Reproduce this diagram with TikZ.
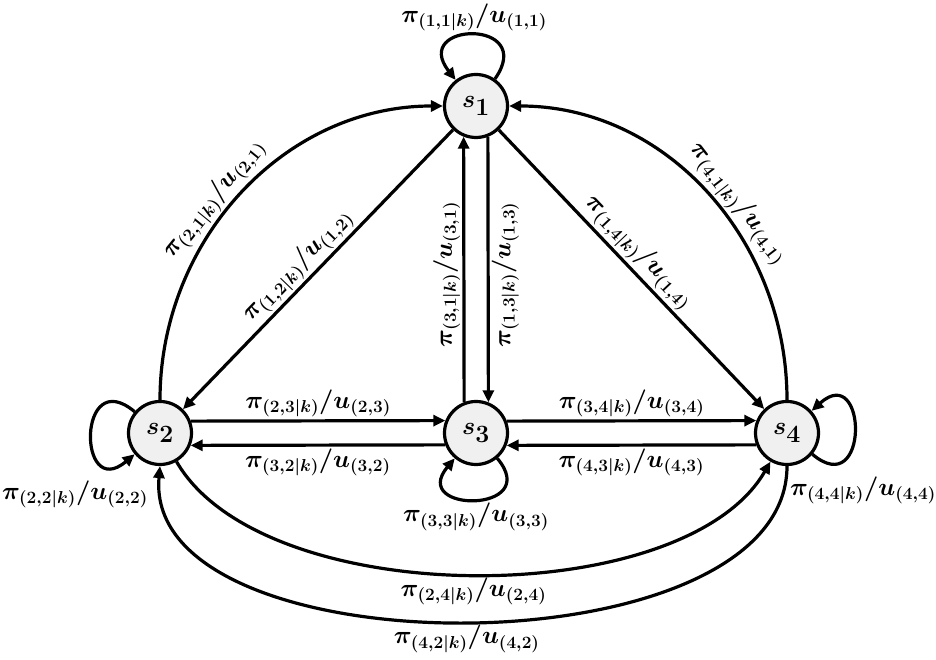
\documentclass[tikz,border=0pt]{standalone}
\usepackage{amsmath}
\usetikzlibrary{arrows.meta,calc}
\DeclareMathSizes{25}{25}{19}{15}
\DeclareMathSizes{34}{34}{25}{19}
\begin{document}
\begin{tikzpicture}[x=1pt,y=1pt,
  state/.style={circle,draw,line width=3.2pt,fill=gray!12,minimum size=63pt,inner sep=0pt,font=\fontsize{34}{38}\selectfont\boldmath},
  conn/.style={line width=3.2pt,-{Triangle[length=12pt,width=11pt]}},
  rconn/.style={line width=3.2pt,{Triangle[length=12pt,width=11pt]}-},
  lbl/.style={font=\fontsize{25}{29}\selectfont\boldmath,inner sep=2pt}]
\useasboundingbox (0,0) rectangle (936,660);

\node[state] (s1) at (476,554) {$s_1$};
\node[state] (s2) at (160,227) {$s_2$};
\node[state] (s3) at (476,227) {$s_3$};
\node[state] (s4) at (787,227) {$s_4$};

% s1 <-> s2
\draw[conn] (s2.north) to[out=90,in=180] node[lbl,above,sloped,pos=0.45] {$\pi_{(2,1|k)}/u_{(2,1)}$} (s1.west);
\draw[rconn] (s2) -- node[lbl,above,sloped,pos=0.47] {$\pi_{(1,2|k)}/u_{(1,2)}$} (s1);

% s1 <-> s4
\draw[rconn] (s1.east) to[out=0,in=90] node[lbl,above,sloped,pos=0.56] {$\pi_{(4,1|k)}/u_{(4,1)}$} (s4.north);
\draw[conn] (s1) -- node[lbl,above,sloped,pos=0.48] {$\pi_{(1,4|k)}/u_{(1,4)}$} (s4);

% s1 <-> s3
\draw[conn] (s3.111.5) -- node[lbl,rotate=90,anchor=south,pos=0.48] {$\pi_{(3,1|k)}/u_{(3,1)}$} (s1.248.5);
\draw[rconn] (s3.68.5) -- node[lbl,rotate=90,anchor=north,pos=0.48] {$\pi_{(1,3|k)}/u_{(1,3)}$} (s1.291.5);

% s2 <-> s3
\draw[conn] (s2.21.5) -- node[lbl,above] {$\pi_{(2,3|k)}/u_{(2,3)}$} (s3.158.5);
\draw[conn] (s3.201.5) -- node[lbl,below] {$\pi_{(3,2|k)}/u_{(3,2)}$} (s2.338.5);

% s3 <-> s4
\draw[conn] (s3.21.5) -- node[lbl,above] {$\pi_{(3,4|k)}/u_{(3,4)}$} (s4.158.5);
\draw[conn] (s4.201.5) -- node[lbl,below] {$\pi_{(4,3|k)}/u_{(4,3)}$} (s3.338.5);

% s2 <-> s4
\draw[conn] (s2.-60) to[out=-60,in=-120,looseness=0.75] node[lbl,below] {$\pi_{(2,4|k)}/u_{(2,4)}$} (s4.240);
\draw[conn] (s4.south) to[out=-90,in=-95,looseness=0.85] node[lbl,below] {$\pi_{(4,2|k)}/u_{(4,2)}$} (s2.south);

% loops
\draw[conn] (s1.55) .. controls +(55:74) and +(128:74) .. node[lbl,above] {$\pi_{(1,1|k)}/u_{(1,1)}$} (s1.128);
\draw[conn] (s2.140) .. controls +(140:75) and +(220:75) .. (s2.220);
\draw[conn] (s3.-50) .. controls +(-50:72) and +(-130:72) .. node[lbl,below] {$\pi_{(3,3|k)}/u_{(3,3)}$} (s3.-130);
\draw[conn] (s4.-40) .. controls +(-40:75) and +(42:75) .. (s4.42);

\node[lbl] (l22) at ($(s2)+(-85,-61)$) {$\pi_{(2,2|k)}/u_{(2,2)}$};
\node[lbl] (l44) at ($(s4)+(76,-57)$) {$\pi_{(4,4|k)}/u_{(4,4)}$};
\end{tikzpicture}
\end{document}
